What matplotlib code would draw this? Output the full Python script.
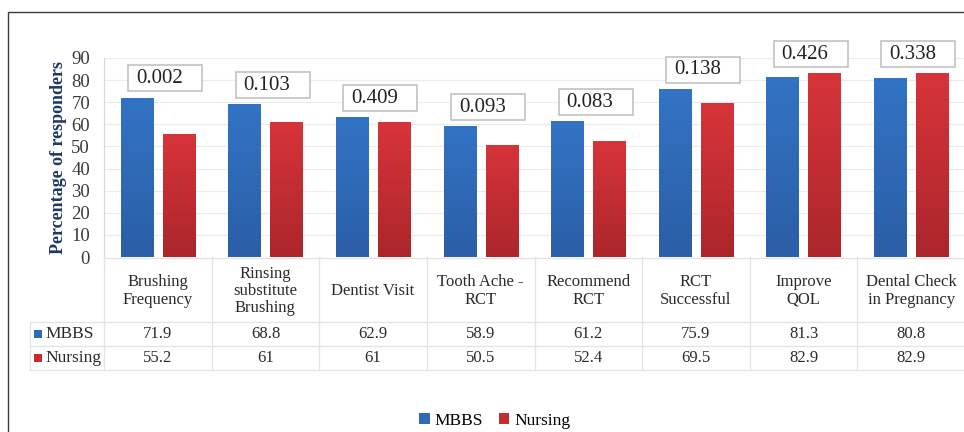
import matplotlib
matplotlib.use("Agg")
import matplotlib.pyplot as plt
import numpy as np
from matplotlib.colors import LinearSegmentedColormap
from matplotlib.patches import Rectangle
from matplotlib import transforms
from matplotlib.lines import Line2D

plt.rcParams['font.family'] = ['Liberation Serif', 'DejaVu Serif']

categories = ["Brushing\nFrequency", "Rinsing\nsubstitute\nBrushing", "Dentist Visit",
              "Tooth Ache -\nRCT", "Recommend\nRCT", "RCT\nSuccessful",
              "Improve\nQOL", "Dental Check\nin Pregnancy"]
mbbs = [71.9, 68.8, 62.9, 58.9, 61.2, 75.9, 81.3, 80.8]
nursing = [55.2, 61, 61, 50.5, 52.4, 69.5, 82.9, 82.9]
mbbs_labels = ["71.9", "68.8", "62.9", "58.9", "61.2", "75.9", "81.3", "80.8"]
nursing_labels = ["55.2", "61", "61", "50.5", "52.4", "69.5", "82.9", "82.9"]
p_values = ["0.002", "0.103", "0.409", "0.093", "0.083", "0.138", "0.426", "0.338"]
series_names = ["MBBS", "Nursing"]

W, H = 964, 432
BLUE = "#2E6AB8"
RED = "#C52B30"
TXT = "#2b2b2b"
blue_grad = LinearSegmentedColormap.from_list("b", ["#2A5EA6", "#3373C4"])
red_grad = LinearSegmentedColormap.from_list("r", ["#AB262B", "#D73439"])

fig = plt.figure(figsize=(W / 100, H / 100), dpi=100)
fig.patch.set_facecolor("white")

# outer frame
fig.patches.append(Rectangle((8 / W, -0.2), 1.2, 1.2 - 12 / H,
                             transform=fig.transFigure, fill=False,
                             edgecolor="#3a3a3a", lw=1.0))

ax = fig.add_axes([104 / W, (H - 257) / H, 861 / W, 199 / H])
x = np.arange(len(categories))
bw = 0.3
off = 0.195
b1 = ax.bar(x - off, mbbs, bw, color=BLUE, zorder=2)
b2 = ax.bar(x + off, nursing, bw, color=RED, zorder=2)

grad = np.linspace(0, 1, 100).reshape(-1, 1)
for bars, cm in ((b1, blue_grad), (b2, red_grad)):
    for r in bars:
        ax.imshow(grad, extent=[r.get_x(), r.get_x() + r.get_width(), 0, r.get_height()],
                  origin="lower", cmap=cm, aspect="auto", zorder=3)

ax.set_xlim(-0.5, len(categories) - 0.5)
ax.set_ylim(0, 90)
ax.set_yticks(np.arange(0, 91, 10))
ax.tick_params(axis="y", length=0, pad=10, labelsize=13.5, labelcolor="#3a3a3a")
ax.set_xticks([])
for s in ax.spines.values():
    s.set_visible(False)
ax.spines["left"].set_visible(True)
ax.spines["left"].set_color("#D9D9D9")
ax.yaxis.grid(True, color="#EBEBEB", lw=0.8, zorder=0)
ax.set_axisbelow(True)
ax.set_ylabel("Percentage of responders", fontsize=13, fontweight="bold",
              color="#1F3864", labelpad=3)

# p-value boxes
cw_px = 861 / len(categories)
for i, p in enumerate(p_values):
    left = i - 0.5 + 24 / cw_px
    bottom = max(mbbs[i], nursing[i]) + 3
    h = 26 / (199 / 90)
    ax.add_patch(Rectangle((left, bottom), 74 / cw_px, h, facecolor="white",
                           edgecolor="#BDBDBD", lw=1.1, zorder=4, clip_on=False))
    ax.text(left + 8 / cw_px, bottom + h / 2, p, ha="left", va="center",
            fontsize=15, color="#222222", zorder=5, clip_on=False)

# data table below the axis
tr = transforms.blended_transform_factory(ax.transData, fig.transFigure)
def fy(py):
    return 1 - py / H

line_c = "#E3E3E3"
for b in np.arange(len(categories) + 1) - 0.5:
    fig.add_artist(Line2D([b, b], [fy(257), fy(370)], transform=tr, color=line_c, lw=0.9))
fig.add_artist(Line2D([104 / W, 1.0], [fy(258), fy(258)], transform=fig.transFigure,
                      color=line_c, lw=0.9))
for py in (322, 346, 370):
    fig.add_artist(Line2D([30 / W, 1.0], [fy(py), fy(py)], transform=fig.transFigure,
                          color=line_c, lw=0.9))
fig.add_artist(Line2D([30 / W, 30 / W], [fy(322), fy(370)], transform=fig.transFigure,
                      color=line_c, lw=0.9))

for i, c in enumerate(categories):
    fig.text(i, fy(291), c, transform=tr, ha="center", va="center",
             fontsize=12, color=TXT, linespacing=1.1)
    fig.text(i, fy(334), mbbs_labels[i], transform=tr, ha="center", va="center",
             fontsize=12, color=TXT)
    fig.text(i, fy(358), nursing_labels[i], transform=tr, ha="center", va="center",
             fontsize=12, color=TXT)

for name, col, py in ((series_names[0], BLUE, 334), (series_names[1], RED, 358)):
    fig.add_artist(Rectangle((34 / W, fy(py) - 4 / H), 8 / W, 8 / H,
                             transform=fig.transFigure, facecolor=col, edgecolor="none"))
    fig.text(45 / W, fy(py), name, ha="left", va="center", fontsize=12.5, color=TXT)

# legend at the bottom
handles = [Rectangle((0, 0), 1, 1, facecolor=BLUE), Rectangle((0, 0), 1, 1, facecolor=RED)]
fig.legend(handles, series_names, loc="center", bbox_to_anchor=(495 / W, fy(421)),
           ncol=2, frameon=False, fontsize=12.5, handlelength=0.6, handleheight=0.6,
           handletextpad=0.3, columnspacing=0.9, borderpad=0.1)

fig.savefig("out.png", dpi=100, facecolor="white")
